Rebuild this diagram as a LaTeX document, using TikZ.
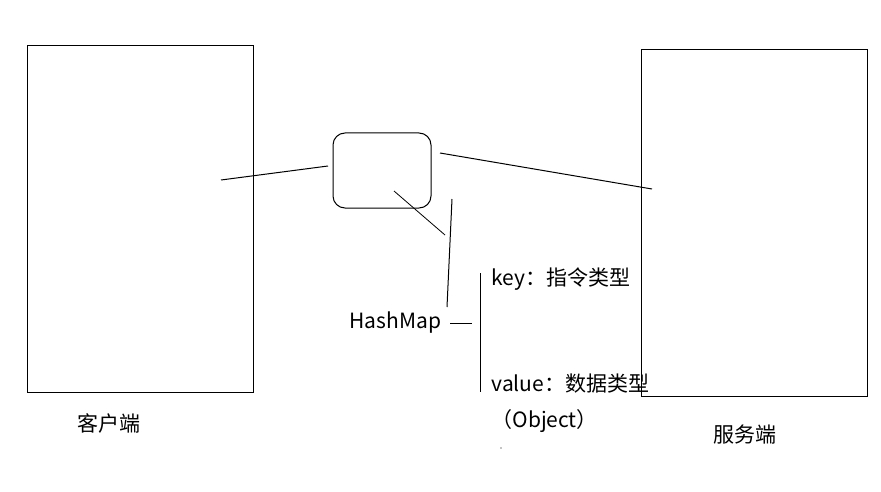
\documentclass[tikz,border=0pt]{standalone}
\usepackage{fontspec}
\setmainfont{Noto Sans CJK SC}
\usetikzlibrary{positioning}

\begin{document}
\begin{tikzpicture}[x=1pt,y=-1pt,line width=1pt]
\useasboundingbox (0,0) rectangle (881,492);
\tikzset{lbl/.style={anchor=base west,inner sep=0,font=\fontsize{21}{24}\selectfont}}
\node[draw,minimum width=226pt,minimum height=346pt,inner sep=0] (client) at (140,219) {};
\node[draw,minimum width=226pt,minimum height=346pt,inner sep=0] (server) at (754,223) {};
\node[draw,rounded corners=12pt,minimum width=98pt,minimum height=75pt,inner sep=0] (map) at (382,170.5) {};

\node[lbl] (hm) at (349,328) {HashMap};
\node[lbl] (key) at (491,285) {key：指令类型};
\node[lbl] (val) at (491,391) {value：数据类型};
\node[lbl] (obj) at (491,427) {（Object）};
\node[lbl] (cl) at (77,431) {客户端};
\node[lbl] (sv) at (713,442) {服务端};

% lines between the boxes
\coordinate (c1) at (221,180);
\coordinate (c2) at (328,166);
\coordinate (s1) at (440,153);
\coordinate (s2) at (652,189);
\draw (c1) -- (c2);
\draw (s1) -- (s2);
\draw[line width=0.8pt] (394,191) -- (445,235);
\draw (452,199) -- (447,307);
\coordinate (h1) at (450,323);
\draw (h1) -- ++(22,0);
\draw (480.5,273) -- (480.5,392);
\fill (501,448) circle (0.6);
\end{tikzpicture}
\end{document}
